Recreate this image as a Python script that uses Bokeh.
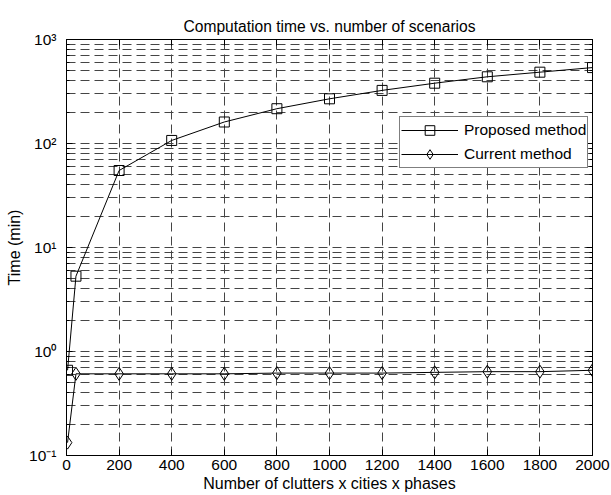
from bokeh.plotting import figure
from bokeh.models import (Range1d, FixedTicker, LinearAxis, LogAxis, Legend, LegendItem)
from bokeh.embed import file_html
from bokeh.resources import INLINE

# ---- data ----
x_vals = [4, 36, 200, 400, 600, 800, 1000, 1200, 1400, 1600, 1800, 2000]
proposed = [0.66, 5.3, 55, 107, 161, 216, 269, 324, 380, 438, 485, 537]
current = [0.133, 0.61, 0.61, 0.61, 0.61, 0.62, 0.62, 0.62, 0.63, 0.64, 0.64, 0.66]
x_ticks = [0, 200, 400, 600, 800, 1000, 1200, 1400, 1600, 1800, 2000]
y_ticks = [0.1, 1, 10, 100, 1000]
y_tick_labels = ["10\u207b\u00b9", "10\u2070", "10\u00b9", "10\u00b2", "10\u00b3"]
title = "Computation time vs. number of scenarios"
x_label = "Number of clutters x cities x phases"
y_label = "Time (min)"

FONT = "Liberation Sans"
y_minor = [m * 10.0 ** e for e in range(-1, 3) for m in range(2, 10)]

p = figure(width=611, height=495, y_axis_type="log",
           x_range=Range1d(0, 2000), y_range=Range1d(0.1, 1000),
           output_backend="svg", toolbar_location=None,
           min_border_left=66, min_border_right=19,
           min_border_top=39, min_border_bottom=40)

p.title.text = title
p.title.text_font = FONT
p.title.text_font_size = "15.6px"
p.title.text_font_style = "normal"
p.title.align = "center"
p.title.text_color = "black"

p.outline_line_color = "black"
p.outline_line_width = 1
p.background_fill_color = "white"
p.border_fill_color = "white"

# axes
xa = p.xaxis[0]
xa.ticker = FixedTicker(ticks=x_ticks)
ya = p.yaxis[0]
ya.ticker = FixedTicker(ticks=y_ticks, minor_ticks=y_minor)
ya.major_label_overrides = {t: l for t, l in zip(y_ticks, y_tick_labels)}
xa.axis_label = x_label
ya.axis_label = y_label
for ax in (xa, ya):
    ax.major_label_text_font = FONT
    ax.major_label_text_font_size = "15.5px"
    ax.major_label_text_color = "black"
    ax.axis_label_text_font = FONT
    ax.axis_label_text_font_size = "16px"
    ax.axis_label_text_font_style = "normal"
    ax.axis_label_text_color = "black"
    ax.major_tick_in = 6
    ax.major_tick_out = 0
    ax.minor_tick_in = 3
    ax.minor_tick_out = 0
    ax.axis_line_color = "black"
    ax.major_tick_line_color = "black"
    ax.minor_tick_line_color = "black"
xa.minor_tick_line_color = None
xa.major_label_standoff = 4
xa.axis_label_standoff = 2
ya.major_label_standoff = 10
ya.axis_label_standoff = 3

# mirrored axes (box on), labels invisible
top = LinearAxis(ticker=FixedTicker(ticks=x_ticks),
                 major_label_text_font_size="1px", major_label_text_alpha=0,
                 major_tick_in=6, major_tick_out=0, minor_tick_line_color=None,
                 major_label_standoff=0, axis_line_color="black")
right = LogAxis(ticker=FixedTicker(ticks=y_ticks, minor_ticks=y_minor),
                major_label_text_font_size="1px", major_label_text_alpha=0,
                major_tick_in=6, major_tick_out=0,
                minor_tick_in=3, minor_tick_out=0, major_label_standoff=0,
                axis_line_color="black")
p.add_layout(top, "above")
p.add_layout(right, "right")

# grid
gcol = "#454545"
p.xgrid.grid_line_color = gcol
p.xgrid.grid_line_dash = "9 5"
p.xgrid.grid_line_width = 1
p.ygrid.grid_line_color = gcol
p.ygrid.grid_line_dash = "9 5"
p.ygrid.minor_grid_line_color = gcol
p.ygrid.minor_grid_line_dash = "9 5"

# series
l1 = p.line(x_vals, proposed, line_color="black", line_width=1)
s1 = p.scatter(x_vals, proposed, marker="square", size=10, line_color="black",
               fill_color=None, line_width=1)
l2 = p.line(x_vals, current, line_color="black", line_width=1)
s2 = p.scatter(x_vals, current, marker="diamond", size=13, line_color="black",
               fill_color=None, line_width=1)

legend = Legend(items=[LegendItem(label="Proposed method", renderers=[l1, s1]),
                       LegendItem(label="Current method", renderers=[l2, s2])],
                location=(333, 287))
legend.label_text_font = FONT
legend.label_text_font_size = "15.5px"
legend.label_text_color = "black"
legend.glyph_width = 57
legend.glyph_height = 24
legend.label_height = 24
legend.label_standoff = 6
legend.spacing = 0
legend.padding = 1
legend.margin = 0
legend.border_line_color = "black"
legend.border_line_width = 1
legend.background_fill_alpha = 1
p.add_layout(legend, "center")

open("out.html", "w").write(file_html(p, INLINE))
